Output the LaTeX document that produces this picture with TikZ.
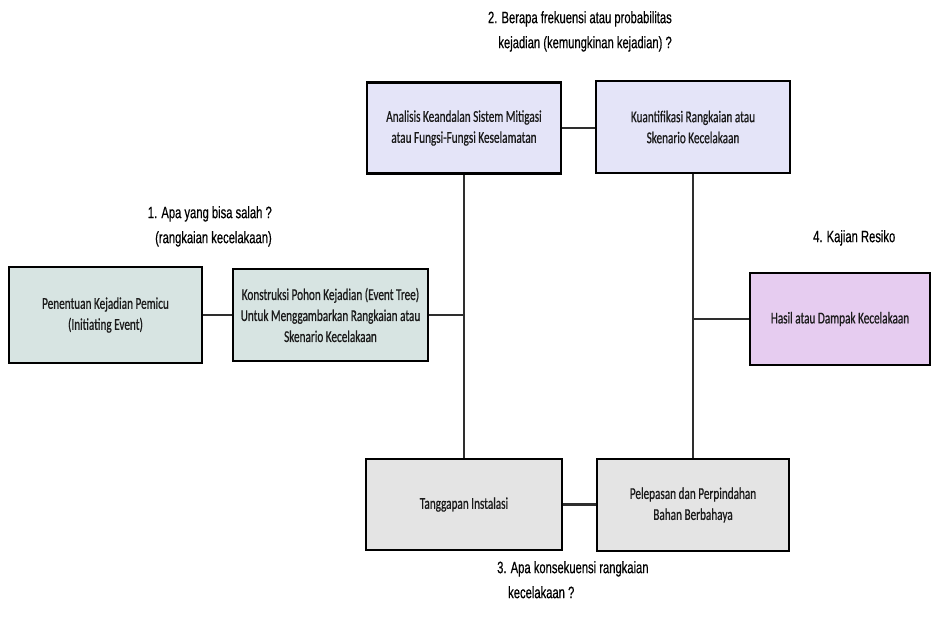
\documentclass[tikz,border=0pt]{standalone}
\usepackage{fontspec}
\setmainfont{Liberation Sans}
\newfontfamily\boxfont[FakeStretch=0.68,FakeBold=0.6]{Carlito}
\newfontfamily\notefont[FakeStretch=0.68,FakeBold=0.5]{Liberation Sans}

\definecolor{fillteal}{HTML}{D7E4E2}
\definecolor{filllav}{HTML}{E4E4F8}
\definecolor{fillgrey}{HTML}{E4E4E4}
\definecolor{fillpink}{HTML}{E6CCF0}
\definecolor{linkgrey}{HTML}{2E2E2E}
\definecolor{inkdark}{HTML}{1A1A1A}

\tikzset{
  stage/.style={draw=black, line width=2.4pt, rectangle, align=center,
    inner sep=0pt, text=inkdark,
    font=\boxfont\fontsize{16.5}{21}\selectfont},
  link/.style={draw=linkgrey, line width=2.2pt},
  note/.style={inner sep=0pt, text=black,
    font=\notefont\fontsize{16.5}{25}\selectfont}
}

\begin{document}
\begin{tikzpicture}[x=1pt, y=-1pt]
  \useasboundingbox (0,0) rectangle (932,618);

  % process stages
  \node[stage, fill=fillteal, minimum width=193, minimum height=96]
    (pem) at (105.5,315) {Penentuan Kejadian Pemicu\\(Initiating Event)};
  \node[stage, fill=fillteal, minimum width=195, minimum height=92]
    (kon) at (330.5,315) {Konstruksi Pohon Kejadian (Event Tree)\\Untuk Menggambarkan Rangkaian atau\\Skenario Kecelakaan};
  \node[stage, fill=filllav, minimum width=194, minimum height=91]
    (ana) at (464,128) {Analisis Keandalan Sistem Mitigasi\\atau Fungsi-Fungsi Keselamatan};
  \node[stage, fill=filllav, minimum width=194, minimum height=92]
    (kua) at (693,127) {Kuantifikasi Rangkaian atau\\Skenario Kecelakaan};
  \node[stage, fill=fillgrey, minimum width=196, minimum height=91]
    (tan) at (464,504.5) {Tanggapan Instalasi};
  \node[stage, fill=fillgrey, minimum width=192, minimum height=92]
    (pel) at (693,505) {Pelepasan dan Perpindahan\\Bahan Berbahaya};
  \node[stage, fill=fillpink, minimum width=180, minimum height=92]
    (has) at (840,319) {Hasil atau Dampak Kecelakaan};

  % junctions on the vertical links
  \coordinate (jl) at (kon.east -| ana.south);
  \coordinate (jr) at (has.west -| kua.south);

  % connectors
  \draw[link] (pem.east) -- (kon.west);
  \draw[link] (kon.east) -- (jl);
  \draw[link] (ana.south) -- (tan.north);
  \draw[link] (ana.east) -- (ana.east -| kua.west);
  \draw[link] (tan.east) -- (tan.east -| pel.west);
  \draw[link] (kua.south) -- (pel.north);
  \draw[link] (jr) -- (has.west);

  % guiding questions
  \node[note, align=right, anchor=north east] (q1) at (272,206)
    {1. Apa yang bisa salah ?\\(rangkaian kecelakaan)};
  \node[note, align=right, anchor=north east] (q2) at (672,11)
    {2. Berapa frekuensi atau probabilitas\\kejadian (kemungkinan kejadian) ?};
  \node[note, align=left, anchor=north west] (q3) at (497,561)
    {3. Apa konsekuensi rangkaian\\\hspace*{11pt}kecelakaan ?};
  \node[note, anchor=north west] (q4) at (813,230) {4. Kajian Resiko};
\end{tikzpicture}
\end{document}
